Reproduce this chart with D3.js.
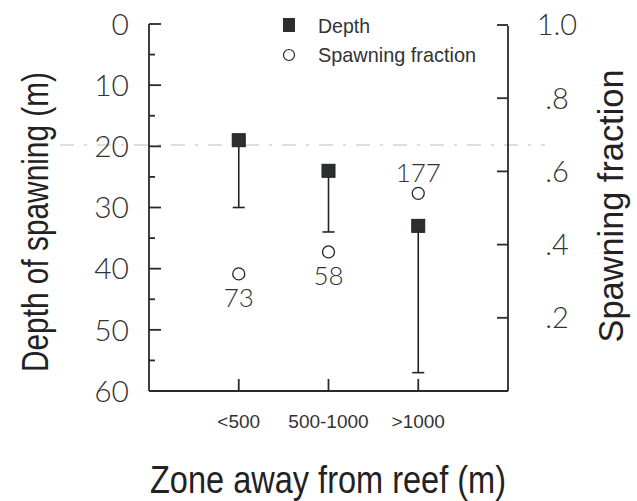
<!DOCTYPE html>
<html>
<head>
<meta charset="utf-8">
<script src="https://cdnjs.cloudflare.com/ajax/libs/d3/7.8.5/d3.min.js"></script>
<style>
  body { margin: 0; background: #fff; }
  text { font-family: "Liberation Sans", Arial, sans-serif; fill: #222; }
  text.thin { font-family: Lato, "Liberation Sans", sans-serif; font-weight: 300; fill: #333; }
  .axis line { stroke: #2a2a2a; stroke-width: 1.8; }
</style>
</head>
<body>
<div id="chart"></div>
<script>
// data
var zones = ["<500", "500-1000", ">1000"];
var depthMean = [19, 24, 33];          // depth of spawning (m)
var depthLow = [30, 34, 57];           // lower end of error bar (m)
var spawnFrac = [0.32, 0.38, 0.54];    // spawning fraction
var sampleN = [73, 58, 177];           // n beside each circle
var nAbove = [false, false, true];
var depthTicks = [0, 10, 20, 30, 40, 50, 60];
var fracTicks = [0.2, 0.4, 0.6, 0.8, 1.0];

var width = 637, height = 501;
var m = {left: 149, right: 508, top: 24, bottom: 391};

var svg = d3.select("#chart").append("svg")
    .attr("width", width)
    .attr("height", height);

// scales
var xScale = d3.scalePoint().domain(zones).range([m.left, m.right]).padding(1);
var yDepth = d3.scaleLinear().domain([0, 60]).range([m.top, m.bottom]);
var yFrac = d3.scaleLinear().domain([0, 1]).range([m.bottom, m.top + 1]);

var rows = zones.map(function(z, i) {
    return {zone: z, depth: depthMean[i], low: depthLow[i], frac: spawnFrac[i], n: sampleN[i], above: nAbove[i]};
});

// faint scan streak seen across the original figure
svg.append("line")
    .attr("x1", 60).attr("x2", 545)
    .attr("y1", yDepth(19.8)).attr("y2", yDepth(19.8))
    .attr("stroke", "#d4d4d4").attr("stroke-width", 1.5)
    .attr("stroke-dasharray", "14 10 3 10");

// left axis (ticks point inward, minor ticks at 5 m)
var gL = svg.append("g").attr("class", "axis");
gL.append("line").attr("x1", m.left).attr("x2", m.left).attr("y1", m.top).attr("y2", m.bottom);
gL.selectAll(".maj").data(depthTicks).enter().append("line")
    .attr("x1", m.left).attr("x2", m.left + 12)
    .attr("y1", function(d) { return yDepth(d); })
    .attr("y2", function(d) { return yDepth(d); });
gL.selectAll(".min").data(d3.range(5, 60, 10)).enter().append("line")
    .attr("x1", m.left).attr("x2", m.left + 6)
    .attr("y1", function(d) { return yDepth(d); })
    .attr("y2", function(d) { return yDepth(d); });
gL.selectAll("text").data(depthTicks).enter().append("text")
    .attr("class", "thin")
    .attr("x", 129)
    .attr("y", function(d) { return yDepth(d); })
    .attr("dy", "0.36em")
    .attr("text-anchor", "end")
    .style("font-size", "30px")
    .text(function(d) { return d; });

// right axis (fraction)
var gR = svg.append("g").attr("class", "axis");
gR.append("line").attr("x1", m.right).attr("x2", m.right).attr("y1", m.top + 2).attr("y2", m.bottom);
gR.selectAll("line.t").data(fracTicks).enter().append("line")
    .attr("class", "t")
    .attr("x1", m.right).attr("x2", m.right - 11)
    .attr("y1", function(d) { return yFrac(d); })
    .attr("y2", function(d) { return yFrac(d); });
gR.selectAll("text").data(fracTicks).enter().append("text")
    .attr("class", "thin")
    .attr("x", 557)
    .attr("y", function(d) { return yFrac(d); })
    .attr("dy", "0.36em")
    .attr("text-anchor", "middle")
    .style("font-size", "29px")
    .text(function(d) { return d === 1 ? "1.0" : d3.format(".1f")(d).replace(/^0/, ""); });

// bottom axis
var gB = svg.append("g").attr("class", "axis");
gB.append("line").attr("x1", m.left).attr("x2", m.right).attr("y1", m.bottom).attr("y2", m.bottom);
gB.selectAll("line.t").data(zones).enter().append("line")
    .attr("class", "t")
    .attr("x1", function(d) { return xScale(d); })
    .attr("x2", function(d) { return xScale(d); })
    .attr("y1", m.bottom).attr("y2", m.bottom - 12);
gB.selectAll("text").data(zones).enter().append("text")
    .attr("x", function(d) { return xScale(d); })
    .attr("y", 428)
    .attr("text-anchor", "middle")
    .style("font-size", "19px")
    .style("fill", "#333")
    .text(function(d) { return d; });

// error bars (one-sided, downward)
svg.selectAll(".err").data(rows).enter().append("line")
    .attr("x1", function(d) { return xScale(d.zone); })
    .attr("x2", function(d) { return xScale(d.zone); })
    .attr("y1", function(d) { return yDepth(d.depth); })
    .attr("y2", function(d) { return yDepth(d.low); })
    .attr("stroke", "#222").attr("stroke-width", 1.6);
svg.selectAll(".cap").data(rows).enter().append("line")
    .attr("x1", function(d) { return xScale(d.zone) - 6; })
    .attr("x2", function(d) { return xScale(d.zone) + 6; })
    .attr("y1", function(d) { return yDepth(d.low); })
    .attr("y2", function(d) { return yDepth(d.low); })
    .attr("stroke", "#222").attr("stroke-width", 1.6);

// depth squares
svg.selectAll(".sq").data(rows).enter().append("rect")
    .attr("x", function(d) { return xScale(d.zone) - 6.5; })
    .attr("y", function(d) { return yDepth(d.depth) - 6.5; })
    .attr("width", 13).attr("height", 13)
    .attr("fill", "#2c302c").attr("stroke", "#222");

// spawning fraction circles
svg.selectAll(".ci").data(rows).enter().append("circle")
    .attr("cx", function(d) { return xScale(d.zone); })
    .attr("cy", function(d) { return yFrac(d.frac); })
    .attr("r", 6)
    .attr("fill", "#fff").attr("stroke", "#222").attr("stroke-width", 1.3);

svg.selectAll(".nlab").data(rows).enter().append("text")
    .attr("class", "thin")
    .attr("x", function(d) { return xScale(d.zone); })
    .attr("y", function(d) { return yFrac(d.frac) + (d.above ? -11 : 33); })
    .attr("text-anchor", "middle")
    .style("font-size", "26px")
    .text(function(d) { return d.n; });

// legend
var leg = svg.append("g");
leg.append("rect").attr("x", 283).attr("y", 18).attr("width", 12).attr("height", 14).attr("fill", "#2c302c");
leg.append("circle").attr("cx", 289).attr("cy", 55).attr("r", 5.5).attr("fill", "#fff").attr("stroke", "#222").attr("stroke-width", 1.2);
leg.append("text").attr("x", 318).attr("y", 33).style("font-size", "21px").style("fill", "#333")
    .attr("textLength", 52).attr("lengthAdjust", "spacingAndGlyphs").text("Depth");
leg.append("text").attr("x", 318).attr("y", 62).style("font-size", "21px").style("fill", "#333")
    .attr("textLength", 158).attr("lengthAdjust", "spacingAndGlyphs").text("Spawning fraction");

// axis titles (original lettering is tall and narrow)
svg.append("text")
    .attr("transform", "translate(48,222) rotate(-90)")
    .attr("text-anchor", "middle")
    .style("font-size", "36px")
    .attr("textLength", 300).attr("lengthAdjust", "spacingAndGlyphs")
    .text("Depth of spawning (m)");
svg.append("text")
    .attr("transform", "translate(623,206) rotate(-90)")
    .attr("text-anchor", "middle")
    .style("font-size", "35px")
    .attr("textLength", 273).attr("lengthAdjust", "spacingAndGlyphs")
    .text("Spawning fraction");
svg.append("text")
    .attr("x", 328).attr("y", 493)
    .attr("text-anchor", "middle")
    .style("font-size", "38px")
    .attr("textLength", 356).attr("lengthAdjust", "spacingAndGlyphs")
    .text("Zone away from reef (m)");
</script>
</body>
</html>
